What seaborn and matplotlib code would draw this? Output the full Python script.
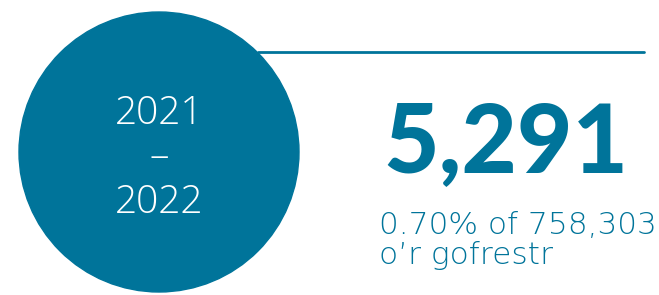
import matplotlib
matplotlib.use("Agg")
import matplotlib.pyplot as plt
from matplotlib.patches import Circle
import seaborn as sns

# Data
years = ["2021", "2022"]
count = 5291
percent = 0.70
total = 758303
caption = "o’r gofrestr"

blue = "#00749A"

sns.set_style("white")
plt.rcParams["font.family"] = ["Lato", "DejaVu Sans"]
light = ["Open Sans", "DejaVu Sans"]
wide = ["DejaVu Sans"]

fig = plt.figure(figsize=(6.59, 2.95), dpi=100)
ax = fig.add_axes([0, 0, 1, 1])
ax.set_xlim(0, 659)
ax.set_ylim(295, 0)
ax.axis("off")

# Rule to the right of the circle
sns.lineplot(x=[258, 644], y=[52, 52], color=blue, linewidth=2, ax=ax)

# Circle with years
ax.add_patch(Circle((159, 152), 140, color=blue, zorder=3))
for label, y in [(years[0], 124), (years[1], 213)]:
    ax.text(159, y, label, color="white", fontsize=28, family=light,
            fontweight=300, ha="center", va="baseline", zorder=4)
ax.text(159, 158, "–", color="white", fontsize=28, family=light,
        fontweight=300, ha="center", va="center", zorder=4)

# Big number and caption
ax.text(383, 172, f"{count:,}", color=blue, fontsize=69, fontweight="black",
        ha="left", va="baseline")
ax.text(379, 234, f"{percent:.2f}% of {total:,}", color=blue, fontsize=22.5,
        family=wide, fontweight="light", ha="left", va="baseline")
ax.text(379, 264, caption, color=blue, fontsize=22.5, family=wide,
        fontweight="light", ha="left", va="baseline")

fig.savefig("out.png", dpi=100)
